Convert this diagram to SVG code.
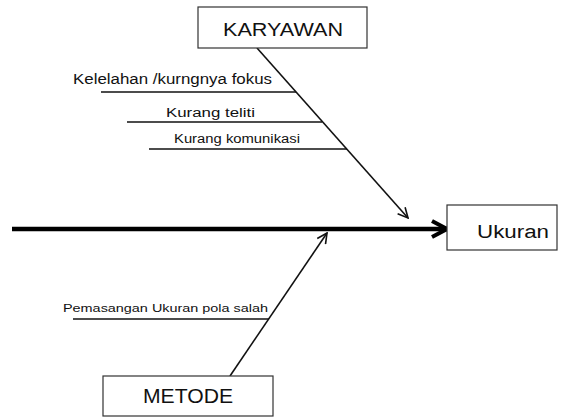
<svg xmlns="http://www.w3.org/2000/svg" width="572" height="417" viewBox="0 0 572 417">
<defs>
<style>
.box{fill:#fff;stroke:#333;stroke-width:1.2}
.t{font-family:"Liberation Sans","Noto Sans",sans-serif;fill:#111}
.ln{stroke:#111;stroke-width:1.6;fill:none}
.bone{stroke:#111;stroke-width:1.4;fill:none}
</style>
<marker id="ah" viewBox="0 0 12 12" refX="11" refY="6" markerWidth="12" markerHeight="12" markerUnits="userSpaceOnUse" orient="auto">
<path d="M1,1 L11,6 L1,11" fill="none" stroke="#111" stroke-width="1.6"/>
</marker>
<marker id="ahBig" viewBox="0 0 20 20" refX="18" refY="10" markerWidth="20" markerHeight="20" markerUnits="userSpaceOnUse" orient="auto">
<path d="M3,2 L18,10 L3,18" fill="none" stroke="#000" stroke-width="4" stroke-linejoin="miter"/>
</marker>
</defs>
<rect width="572" height="417" fill="#fff"/>
<g id="connectors">
<line x1="12" y1="229" x2="447" y2="229" stroke="#000" stroke-width="4.5" marker-end="url(#ahBig)"/>
<line class="ln" x1="257" y1="48" x2="408" y2="218" marker-end="url(#ah)"/>
<line class="ln" x1="230" y1="376" x2="327" y2="233" marker-end="url(#ah)"/>
<line class="bone" x1="101" y1="92" x2="296" y2="92"/>
<line class="bone" x1="127" y1="122" x2="322" y2="122"/>
<line class="bone" x1="149" y1="149" x2="347" y2="149"/>
<line class="bone" x1="73" y1="319" x2="269" y2="319"/>
</g>
<g id="karyawan">
<rect class="box" x="198" y="7" width="169" height="41"/>
<text class="t" x="223" y="36" font-size="19" textLength="120" lengthAdjust="spacingAndGlyphs">KARYAWAN</text>
</g>
<g id="ukuran">
<rect class="box" x="447" y="205" width="110" height="45"/>
<text class="t" x="477" y="238" font-size="18" textLength="72" lengthAdjust="spacingAndGlyphs">Ukuran</text>
</g>
<g id="metode">
<rect class="box" x="103" y="376" width="170" height="40"/>
<text class="t" x="143" y="403" font-size="20" textLength="90" lengthAdjust="spacingAndGlyphs">METODE</text>
</g>
<g id="cause-kelelahan">
<text class="t" x="73" y="84" font-size="14" textLength="199" lengthAdjust="spacingAndGlyphs">Kelelahan /kurngnya fokus</text>
</g>
<g id="cause-teliti">
<text class="t" x="166" y="117" font-size="12" textLength="89" lengthAdjust="spacingAndGlyphs">Kurang teliti</text>
</g>
<g id="cause-komunikasi">
<text class="t" x="174" y="143" font-size="12" textLength="126" lengthAdjust="spacingAndGlyphs">Kurang komunikasi</text>
</g>
<g id="cause-pemasangan">
<text class="t" x="63" y="312" font-size="11.5" textLength="205" lengthAdjust="spacingAndGlyphs">Pemasangan Ukuran pola salah</text>
</g>
</svg>
